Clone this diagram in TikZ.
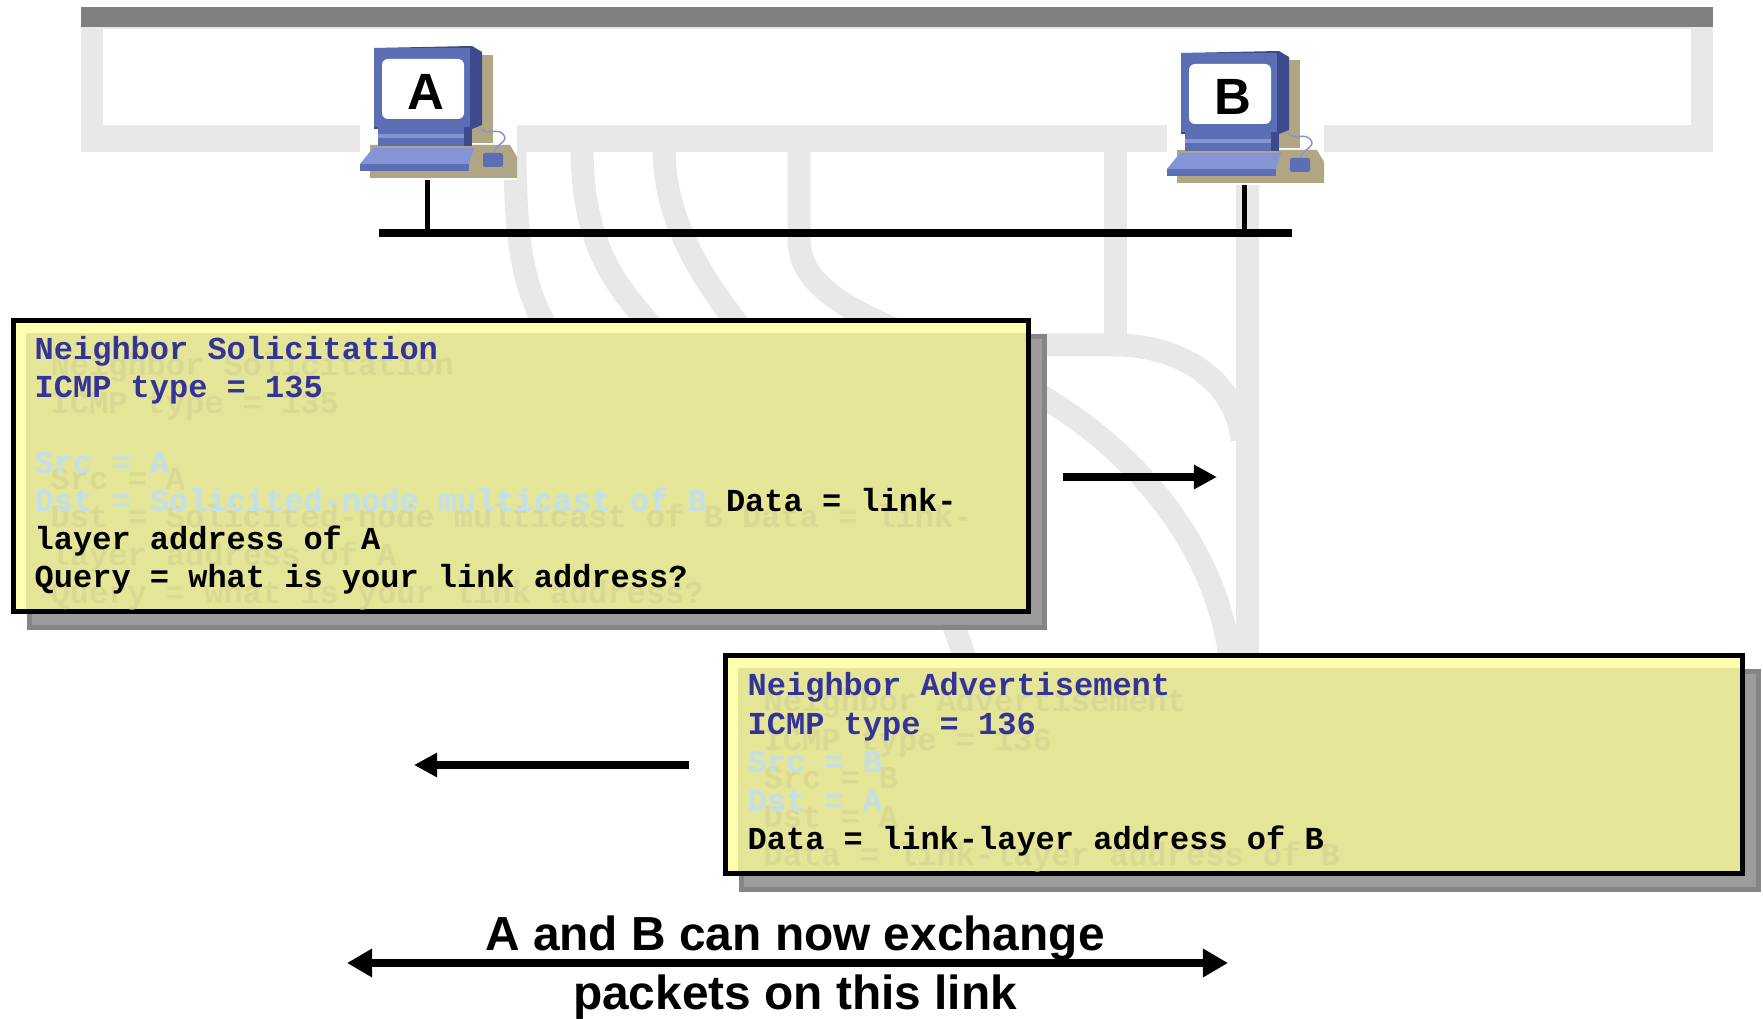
\documentclass[tikz,border=0pt]{standalone}
\usepackage{fontspec}
\newfontfamily\pktfont{Liberation Mono}
\newfontfamily\capfont{Liberation Sans}
\usetikzlibrary{arrows.meta,shadows}

\definecolor{topbar}{HTML}{808080}
\definecolor{wmgray}{HTML}{E8E8E8}
\definecolor{boxfill}{HTML}{E5E598}
\definecolor{boxlight}{HTML}{FFFFAE}
\definecolor{shadowfill}{HTML}{9C9C9C}
\definecolor{shadowedge}{HTML}{858585}
\definecolor{head}{HTML}{333399}
\definecolor{addr}{HTML}{C2E0EC}
\definecolor{ghost}{HTML}{D9D994}
\definecolor{pcblue}{HTML}{5C6EB4}
\definecolor{pclight}{HTML}{8494D4}
\definecolor{pcdark}{HTML}{3E4A8E}
\definecolor{pcshadow}{HTML}{B0A684}

\begin{document}
\begin{tikzpicture}[x=0.01cm,y=-0.01cm,
    wm/.style={draw=wmgray,line width=0.23cm},
    pktbox/.style={draw,line width=0.05cm,fill=boxfill,
      drop shadow={shadow xshift=0.16cm,shadow yshift=-0.16cm,
        fill=shadowfill,draw=shadowedge,line width=0.05cm,opacity=1},
      path picture={
        \fill[boxlight] (path picture bounding box.north west)
          rectangle ([yshift=-0.125cm]path picture bounding box.north east);
        \fill[boxlight] (path picture bounding box.north west)
          rectangle ([xshift=0.125cm]path picture bounding box.south west);}},
    msg/.style={anchor=base west,inner sep=0pt,
      font=\pktfont\bfseries\fontsize{9.1pt}{11pt}\selectfont},
    caption/.style={anchor=base,inner sep=0pt,
      font=\capfont\bfseries\fontsize{13.6pt}{16pt}\selectfont},
    flow/.style={line width=0.08cm,-{Triangle[length=0.23cm,width=0.23cm]}},
    pics/computer/.style={code={
      \fill[white] (0,0) rectangle (157,133);
      % shadow under the set
      \fill[pcshadow] (110,8) rectangle (133,96);
      \fill[pcshadow] (10,98) -- (150,98) -- (157,110) -- (157,131) -- (10,131) -- cycle;
      % monitor
      \fill[pcdark] (14,1) -- (112,-1) -- (122,5) -- (122,78) -- (112,82) -- (14,82) -- cycle;
      \fill[pcblue] (14,1) rectangle (110,80);
      \fill[white,rounded corners=0.06cm] (22,12) rectangle (104,72);
      \node[font=\capfont\bfseries\fontsize{14.5pt}{14.5pt}\selectfont,inner sep=0pt]
        (-screen) at (66,45) {#1};
      % stand and keyboard
      \fill[pcblue] (18,80) rectangle (112,99);
      \fill[pclight] (18,87) rectangle (112,91);
      \fill[pcdark] (104,80) rectangle (112,99);
      \fill[pclight] (13,101) -- (114,101) -- (109,117) -- (0,117) -- cycle;
      \fill[pcblue] (0,117) rectangle (109,124);
      % mouse
      \draw[pclight,line width=0.015cm] (133,107) .. controls (136,96) and (150,95) .. (143,87)
        .. controls (137,81) and (128,88) .. (121,82);
      \fill[pcblue,rounded corners=0.02cm] (123,106) rectangle (143,120);
      \coordinate (-foot) at (70,133);
    }}]
  \fill[white] (0,0) rectangle (1763,1019);
  \useasboundingbox (0,0) rectangle (1763,1019);

  % faint logo behind everything
  \fill[wmgray] (81,26) rectangle (1713,152);
  \fill[white] (103,29) rectangle (1691,125);
  \draw[wm] (515,148) .. controls (515,250) and (525,290) .. (548,330);
  \draw[wm] (582,148) .. controls (582,250) and (620,290) .. (655,330);
  \draw[wm] (664,148) .. controls (664,330) and (900,430) .. (965,660);
  \draw[wm] (799,148) -- (799,240) .. controls (799,320) and (960,340) .. (1048,400)
    .. controls (1130,450) and (1215,540) .. (1230,658);
  \draw[wm] (1115,148) -- (1115,345);
  \draw[wm] (1040,345) -- (1115,345) .. controls (1180,345) and (1236,380) .. (1242,440);
  \draw[wm] (1247,148) -- (1247,658);
  \fill[topbar] (81,7) rectangle (1713,27);

  % hosts on the link
  \pic (pcA) at (360,47) {computer=A};
  \pic (pcB) at (1167,52) {computer=B};
  \coordinate (busW) at (379,233);
  \coordinate (busE) at (1292,233);
  \coordinate (tapA) at (427,233);
  \coordinate (tapB) at (1244,233);
  \draw[line width=0.075cm] (busW) -- (busE);
  \draw[line width=0.05cm] (tapA |- pcA-foot) -- (tapA);
  \draw[line width=0.05cm] (tapB |- pcB-foot) -- (tapB);

  % the two messages
  \node[pktbox,minimum width=10.15cm,minimum height=2.91cm] (nsBox) at (521,466) {};
  \node[pktbox,minimum width=10.17cm,minimum height=2.18cm] (naBox) at (1234,764.5) {};
  \foreach \sh/\hc/\ac/\dc/\sfx in {16/ghost/ghost/ghost/g,0/head/addr/black/t}{
    \begin{scope}[shift={(\sh,\sh)}]
      \node[msg,text=\hc] (nsTitle\sfx) at (34,360) {Neighbor Solicitation};
      \node[msg,text=\hc] (nsType\sfx) at (34,398) {ICMP type = 135};
      \node[msg,text=\ac] (nsSrc\sfx) at (34,474) {Src = A};
      \node[msg,text=\dc] (nsDst\sfx) at (34,512)
        {\textcolor{\ac}{Dst = Solicited-node multicast of B} Data = link-};
      \node[msg,text=\dc] (nsData\sfx) at (34,550) {layer address of A};
      \node[msg,text=\dc] (nsQuery\sfx) at (34,588) {Query = what is your link address?};
      \node[msg,text=\hc] (naTitle\sfx) at (747,696) {Neighbor Advertisement};
      \node[msg,text=\hc] (naType\sfx) at (747,734.5) {ICMP type = 136};
      \node[msg,text=\ac] (naSrc\sfx) at (747,773) {Src = B};
      \node[msg,text=\ac] (naDst\sfx) at (747,811.5) {Dst = A};
      \node[msg,text=\dc] (naData\sfx) at (747,850) {Data = link-layer address of B};
    \end{scope}
  }
  \coordinate (solFrom) at (1063,477);
  \coordinate (solTo) at (1217,477);
  \draw[flow] (solFrom) -- (solTo);
  \coordinate (advFrom) at (689,765);
  \coordinate (advTo) at (414,765);
  \draw[flow] (advFrom) -- (advTo);

  % result
  \node[caption] (capTop) at (795,951) {A and B can now exchange};
  \node[caption] (capBot) at (795,1009) {packets on this link};
  \coordinate (linkW) at (347,963);
  \coordinate (linkE) at (1228,963);
  \draw[line width=0.08cm,{Triangle[length=0.25cm,width=0.27cm]}-{Triangle[length=0.25cm,width=0.27cm]}]
    (linkW) -- (linkE);
\end{tikzpicture}
\end{document}
